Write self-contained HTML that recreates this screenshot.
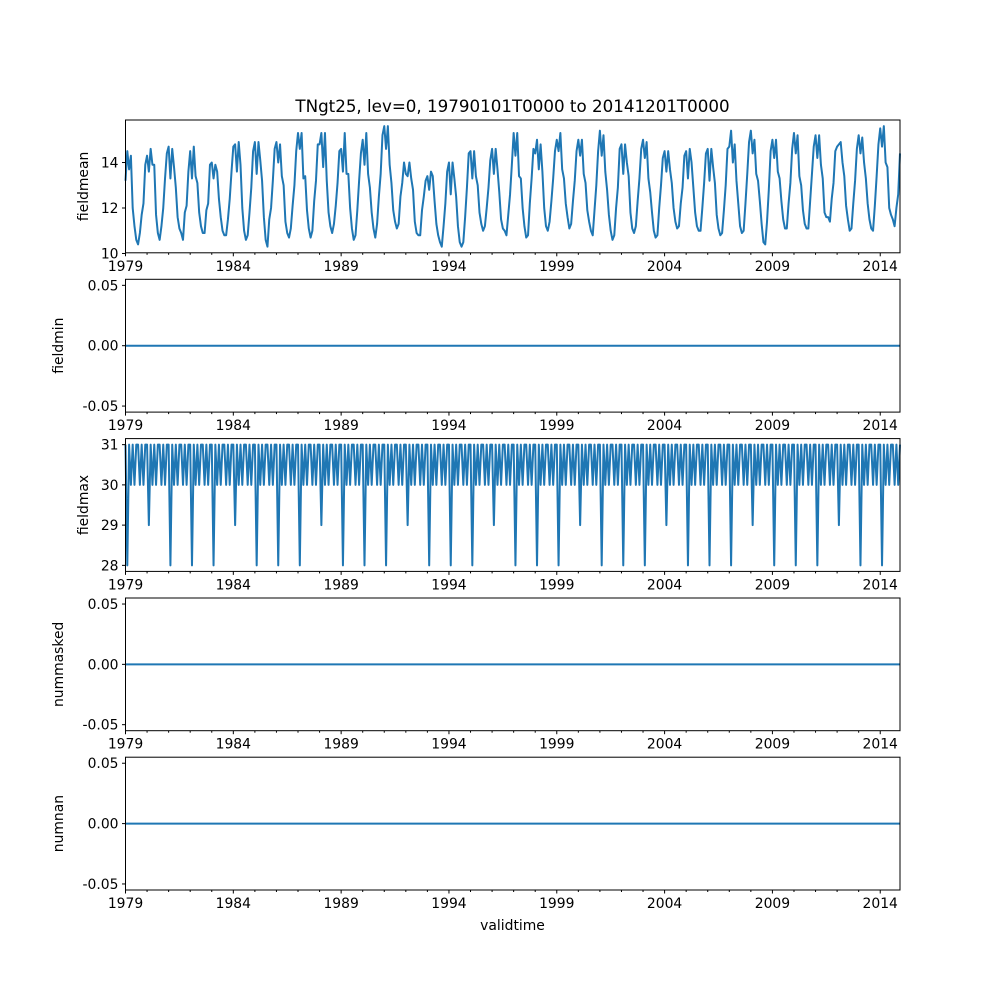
<!DOCTYPE html>
<html><head><meta charset="utf-8"><style>
body{margin:0;background:#fff}
svg text{font-family:"DejaVu Sans","Liberation Sans",sans-serif;font-size:13.9px;fill:#000}
</style></head><body>
<svg id="fig" width="1000" height="1000" xmlns="http://www.w3.org/2000/svg">
<rect width="1000" height="1000" fill="#fff"/>
<text x="512.5" y="112" text-anchor="middle" style="font-size:16.7px">TNgt25, lev=0, 19790101T0000 to 20141201T0000</text>
<text x="512.5" y="930" text-anchor="middle">validtime</text>
</svg>
<script>
const startYear = 1979;
const majorYears = [1979,1984,1989,1994,1999,2004,2009,2014];
const fieldmean = [
13.2,14.5,13.7,14.3,12.0,11.2,10.6,10.4,10.9,11.7,12.2,13.9,
14.3,13.6,14.6,13.9,13.9,11.7,10.9,10.6,11.2,12.0,13.3,14.4,
14.7,13.3,14.6,13.8,12.9,11.6,11.1,10.9,10.6,11.8,12.1,13.6,
14.5,13.3,14.7,13.4,13.1,11.8,11.2,10.9,10.9,11.9,12.2,13.9,
14.0,13.3,13.9,13.6,12.4,11.6,11.0,10.8,10.8,11.5,12.4,13.6,
14.7,14.8,13.6,14.9,13.9,12.0,11.0,10.6,10.8,11.8,12.9,14.5,
14.9,13.5,14.9,14.1,13.2,11.6,10.6,10.3,11.5,12.0,13.2,14.6,
14.9,14.0,14.8,13.4,13.0,11.4,10.9,10.7,11.1,12.1,13.0,14.5,
15.3,14.6,15.3,13.3,13.4,11.9,11.1,10.7,11.0,12.3,13.2,14.8,
14.8,15.3,13.8,15.3,13.2,11.8,11.2,10.9,11.3,12.1,13.1,14.5,
14.6,13.6,15.3,13.5,13.5,12.0,11.1,10.6,10.8,11.9,13.2,14.4,
15.0,13.9,15.3,13.5,12.9,11.8,11.1,10.7,11.3,12.5,13.5,15.2,
15.6,14.6,15.6,13.9,13.1,11.9,11.4,11.1,11.3,12.5,13.1,14.0,
13.5,13.4,14.0,13.3,12.8,11.4,10.9,10.8,10.8,11.9,12.5,13.2,
13.4,12.8,13.6,13.4,12.3,11.3,10.8,10.5,10.3,11.2,12.2,13.6,
14.0,12.6,14.0,13.3,12.5,11.2,10.5,10.3,10.5,11.6,12.9,14.4,
14.5,13.3,14.5,13.4,13.0,11.8,11.3,11.0,11.2,12.0,12.9,14.1,
14.6,13.5,14.6,13.7,12.7,11.5,11.1,11.0,10.8,11.7,12.6,13.9,
15.3,14.3,15.3,13.4,13.3,12.0,11.2,10.7,10.8,12.2,13.3,14.6,
14.4,15.0,13.7,14.8,13.6,12.0,11.2,11.0,11.4,12.3,13.3,14.5,
15.0,14.5,15.3,13.7,13.3,12.2,11.6,11.1,11.3,12.3,13.2,14.5,
15.0,14.3,15.0,13.5,13.1,11.9,11.4,11.0,10.8,11.9,13.0,14.5,
15.4,14.3,15.2,13.6,12.8,11.7,11.0,10.6,10.8,12.0,12.9,14.6,
14.8,13.5,14.8,14.0,13.4,11.8,11.1,10.9,11.2,12.3,13.3,14.6,
15.0,14.2,14.9,13.3,12.7,11.8,11.0,10.7,10.8,12.0,13.0,14.2,
14.5,13.6,14.5,13.7,13.1,12.0,11.4,11.1,11.2,12.2,12.9,14.3,
14.5,13.3,14.6,14.0,12.9,11.8,11.2,11.0,11.0,12.0,13.1,14.4,
14.6,13.2,14.6,13.8,13.1,11.7,11.1,10.8,10.9,11.9,13.0,14.6,
14.7,15.4,14.0,14.8,13.2,12.2,11.2,10.9,11.0,12.2,13.5,14.9,
15.4,14.4,15.0,13.5,13.2,12.3,11.3,10.5,10.4,11.4,12.8,14.5,
15.0,14.2,15.0,13.6,13.3,12.3,11.5,11.1,11.1,12.2,13.1,14.6,
15.3,14.4,15.2,13.4,13.0,11.9,11.3,11.1,11.1,12.3,13.5,14.7,
15.2,14.2,15.2,13.9,13.3,11.8,11.6,11.6,11.4,12.4,13.1,14.5,
14.7,14.8,14.9,14.0,13.4,12.1,11.5,11.0,11.1,12.2,13.2,14.6,
15.2,14.4,15.1,14.0,13.3,12.2,11.5,11.1,11.0,12.1,13.4,14.8,
15.5,14.7,15.6,14.0,13.8,12.0,11.7,11.5,11.2,12.0,12.6,14.4];
const fieldmax = [
31,28,31,30,31,30,31,31,30,31,30,31, 31,29,31,30,31,30,31,31,30,31,30,31,
31,28,31,30,31,30,31,31,30,31,30,31, 31,28,31,30,31,30,31,31,30,31,30,31,
31,28,31,30,31,30,31,31,30,31,30,31, 31,29,31,30,31,30,31,31,30,31,30,31,
31,28,31,30,31,30,31,31,30,31,30,31, 31,28,31,30,31,30,31,31,30,31,30,31,
31,28,31,30,31,30,31,31,30,31,30,31, 31,29,31,30,31,30,31,31,30,31,30,31,
31,28,31,30,31,30,31,31,30,31,30,31, 31,28,31,30,31,30,31,31,30,31,30,31,
31,28,31,30,31,30,31,31,30,31,30,31, 31,29,31,30,31,30,31,31,30,31,30,31,
31,28,31,30,31,30,31,31,30,31,30,31, 31,28,31,30,31,30,31,31,30,31,30,31,
31,28,31,30,31,30,31,31,30,31,30,31, 31,29,31,30,31,30,31,31,30,31,30,31,
31,28,31,30,31,30,31,31,30,31,30,31, 31,28,31,30,31,30,31,31,30,31,30,31,
31,28,31,30,31,30,31,31,30,31,30,31, 31,29,31,30,31,30,31,31,30,31,30,31,
31,28,31,30,31,30,31,31,30,31,30,31, 31,28,31,30,31,30,31,31,30,31,30,31,
31,28,31,30,31,30,31,31,30,31,30,31, 31,29,31,30,31,30,31,31,30,31,30,31,
31,28,31,30,31,30,31,31,30,31,30,31, 31,28,31,30,31,30,31,31,30,31,30,31,
31,28,31,30,31,30,31,31,30,31,30,31, 31,29,31,30,31,30,31,31,30,31,30,31,
31,28,31,30,31,30,31,31,30,31,30,31, 31,28,31,30,31,30,31,31,30,31,30,31,
31,28,31,30,31,30,31,31,30,31,30,31, 31,29,31,30,31,30,31,31,30,31,30,31,
31,28,31,30,31,30,31,31,30,31,30,31, 31,28,31,30,31,30,31,31,30,31,30,31];
const fieldminValues = [0];
const nummaskedValues = [0];
const numnanValues = [0];
const smallTicks = ["-0.05","0.00","0.05"];
const smallTickVals = [-0.05,0,0.05];

const NS="http://www.w3.org/2000/svg";
const svg=document.getElementById('fig');
const X0=125.5,X1=900;
const N=fieldmean.length;
function xOfIndex(i){return X0+(i/(N-1))*(X1-X0);}
function xOfYear(y){return xOfIndex((y-startYear)*12);}
function mk(tag,attrs,parent){const e=document.createElementNS(NS,tag);for(const k in attrs)e.setAttribute(k,attrs[k]);(parent||svg).appendChild(e);return e;}

const panels=[
 {name:'fieldmean',top:120,bot:252.8,ymin:10.03,ymax:15.87,ticks:[10,12,14],labels:["10","12","14"],labelX:88,data:fieldmean},
 {name:'fieldmin',top:279.3,bot:412.1,ymin:-0.055,ymax:0.055,ticks:smallTickVals,labels:smallTicks,labelX:63,data:fieldminValues},
 {name:'fieldmax',top:438.6,bot:571.4,ymin:27.85,ymax:31.15,ticks:[28,29,30,31],labels:["28","29","30","31"],labelX:88,data:fieldmax},
 {name:'nummasked',top:598,bot:730.7,ymin:-0.055,ymax:0.055,ticks:smallTickVals,labels:smallTicks,labelX:63,data:nummaskedValues},
 {name:'numnan',top:757.2,bot:890,ymin:-0.055,ymax:0.055,ticks:smallTickVals,labels:smallTicks,labelX:63,data:numnanValues}
];
panels.forEach(p=>{
 const g=mk('g',{});
 
 
 const y=v=>p.bot-(v-p.ymin)/(p.ymax-p.ymin)*(p.bot-p.top);
 // series
 let d='';
 if(p.data.length>1){p.data.forEach((v,i)=>{d+=(i?'L':'M')+xOfIndex(i).toFixed(2)+','+y(v).toFixed(2);});}
 else{d='M'+X0+','+y(p.data[0])+'L'+X1+','+y(p.data[0]);}
 const line=mk('path',{d:d,fill:'none',stroke:'#1f77b4','stroke-width':2,'stroke-linejoin':'round'},g);
 
 
 const frame=mk('rect',{x:X0,y:p.top,width:X1-X0,height:p.bot-p.top,fill:'none',stroke:'#000','stroke-width':1},g);
 
 
 // y ticks
 p.ticks.forEach((t,k)=>{
  const yy=y(t);
  mk('line',{x1:X0-3.5,x2:X0,y1:yy,y2:yy,stroke:'#000'},g);
  const tx=mk('text',{x:X0-7,y:yy+5,'text-anchor':'end'},g);
  tx.textContent=p.labels[k];
  
  
 });
 const yl=mk('text',{x:p.labelX,y:(p.top+p.bot)/2,'text-anchor':'middle',transform:'rotate(-90 '+p.labelX+' '+((p.top+p.bot)/2)+')'},g);
 yl.textContent=p.name;
 
 
 // x ticks
 for(let yr=startYear;yr<=2014;yr++){
  const xx=xOfYear(yr);
  const major=majorYears.includes(yr);
  mk('line',{x1:xx,x2:xx,y1:p.bot,y2:p.bot+(major?3.5:2),stroke:'#000'},g);
 }
 majorYears.forEach(yr=>{
  const tx=mk('text',{x:xOfYear(yr),y:p.bot+18,'text-anchor':'middle'},g);
  tx.textContent=String(yr);
  
  
 });
});
</script>
</body></html>
